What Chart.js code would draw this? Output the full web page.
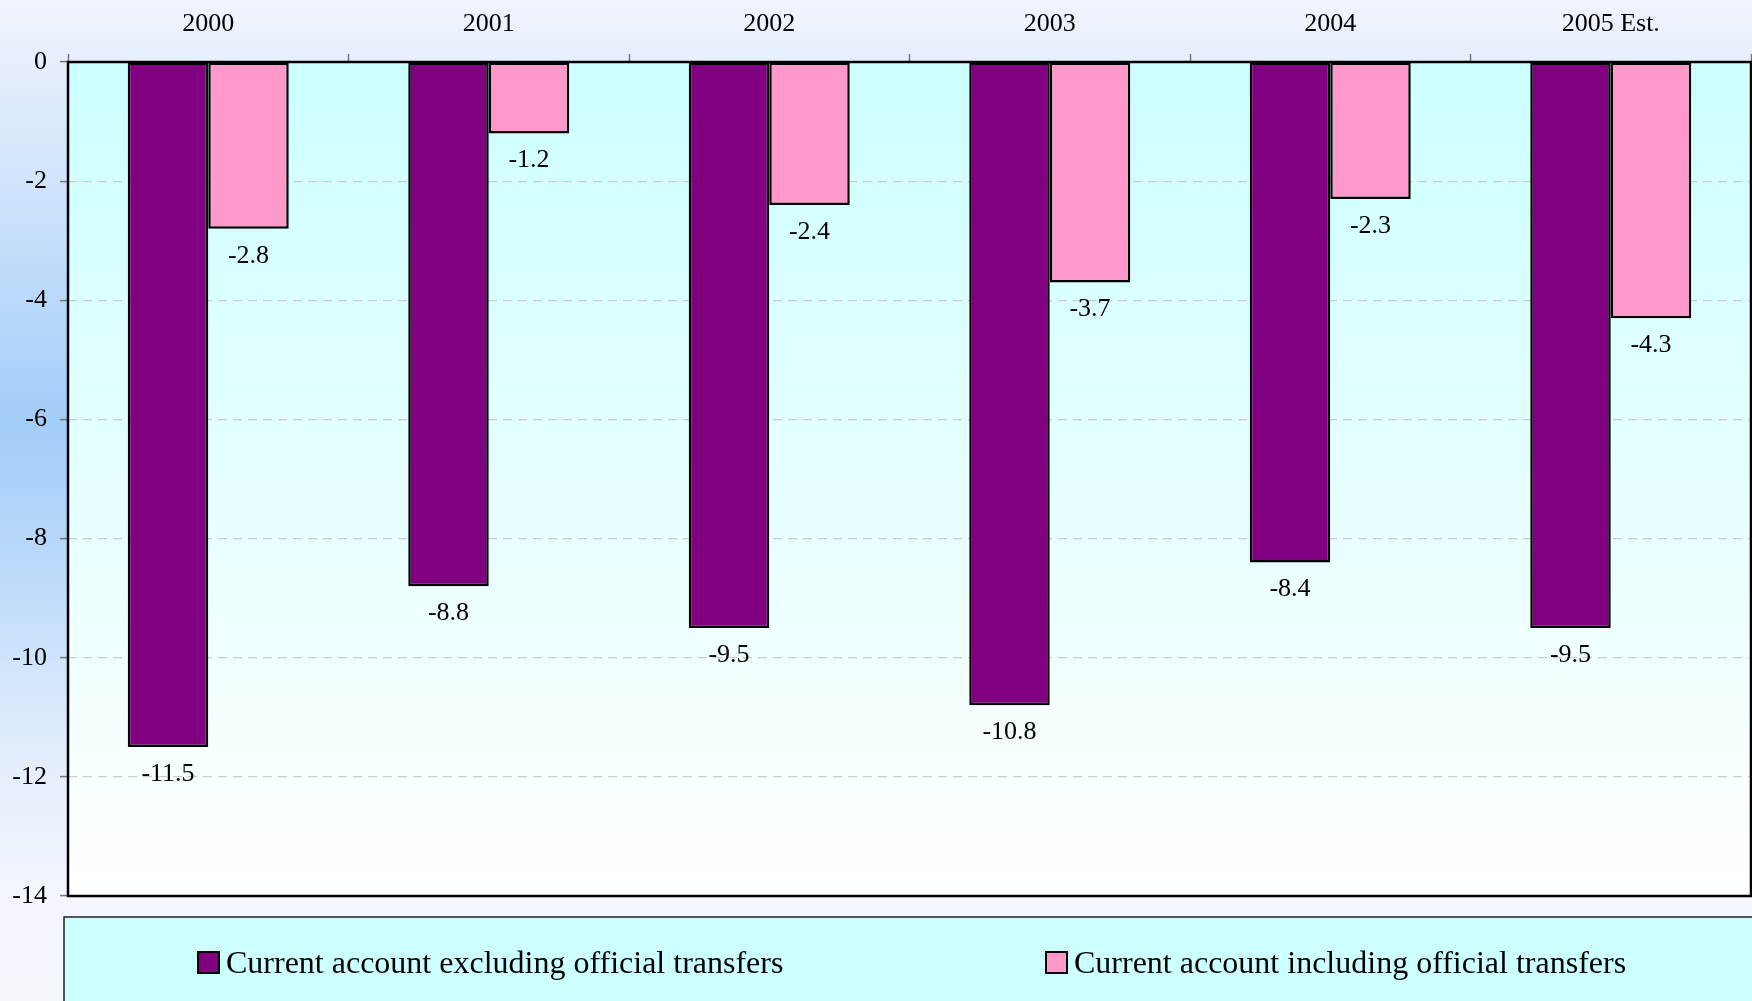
<!DOCTYPE html>
<html>
<head>
<meta charset="utf-8">
<script src="https://cdn.jsdelivr.net/npm/chart.js@4/dist/chart.umd.min.js"></script>
<style>
  html, body { margin: 0; padding: 0; }
  body {
    width: 1752px; height: 1001px; overflow: hidden;
    background: linear-gradient(to bottom, #f1f4fd 0%, #d6e7fc 15%, #a3cdf9 42%, #b8d8fa 55%, #e2edfc 75%, #f3f6fd 90%, #f6f7fd 100%);
  }
  #wrap { position: absolute; left: 0; top: 0; width: 1752px; height: 1001px; }
</style>
</head>
<body>
<div id="wrap"><canvas id="c" width="1752" height="1001"></canvas></div>
<script>
const categories = ['2000', '2001', '2002', '2003', '2004', '2005 Est.'];
const excludingTransfers = [-11.5, -8.8, -9.5, -10.8, -8.4, -9.5];
const includingTransfers = [-2.8, -1.2, -2.4, -3.7, -2.3, -4.3];
const seriesNames = ['Current account excluding official transfers', 'Current account including official transfers'];
const yMin = -14, yMax = 0, yStep = 2;

const FONT = "'Liberation Serif', 'Times New Roman', serif";

const plotBg = {
  id: 'plotBg',
  beforeDraw(chart) {
    const {ctx, chartArea: a} = chart;
    const g = ctx.createLinearGradient(0, a.top, 0, a.bottom);
    g.addColorStop(0, '#ccffff');
    g.addColorStop(1, '#ffffff');
    ctx.save();
    ctx.fillStyle = g;
    ctx.fillRect(a.left, a.top, a.right - a.left, a.bottom - a.top);
    ctx.restore();
  }
};

const frame = {
  id: 'frame',
  afterDatasetsDraw(chart) {
    const {ctx, chartArea: a} = chart;
    ctx.save();
    ctx.strokeStyle = '#000';
    ctx.lineWidth = 2.5;
    ctx.strokeRect(a.left, a.top, a.right - a.left, a.bottom - a.top);
    ctx.restore();
    // value labels
    ctx.save();
    ctx.font = '26px ' + FONT;
    ctx.fillStyle = '#000';
    ctx.textAlign = 'center';
    ctx.textBaseline = 'alphabetic';
    chart.data.datasets.forEach((ds, di) => {
      const meta = chart.getDatasetMeta(di);
      meta.data.forEach((bar, i) => {
        ctx.fillText(ds.data[i].toFixed(1), bar.x, bar.y + 34);
      });
    });
    ctx.restore();
  }
};

const legendBox = {
  id: 'legendBox',
  afterDraw(chart) {
    const {ctx} = chart;
    ctx.save();
    ctx.fillStyle = '#ccffff';
    ctx.fillRect(64, 917, 1700, 100);
    ctx.strokeStyle = '#222';
    ctx.lineWidth = 1.5;
    ctx.strokeRect(64, 917, 1700, 100);
    const starts = [198, 1046];
    ctx.font = '32px ' + FONT;
    ctx.textBaseline = 'alphabetic';
    ctx.textAlign = 'left';
    chart.data.datasets.forEach((ds, i) => {
      const x = starts[i];
      ctx.fillStyle = ds.backgroundColor;
      ctx.fillRect(x, 952, 21, 21);
      ctx.strokeStyle = '#000';
      ctx.lineWidth = 2;
      ctx.strokeRect(x, 952, 21, 21);
      ctx.fillStyle = '#000';
      ctx.fillText(ds.label, x + 28, 973);
    });
    ctx.restore();
  }
};

new Chart(document.getElementById('c'), {
  type: 'bar',
  data: {
    labels: categories,
    datasets: [
      { label: seriesNames[0], data: excludingTransfers, backgroundColor: '#800080', borderColor: '#000', borderWidth: 2.5, borderSkipped: false },
      { label: seriesNames[1], data: includingTransfers, backgroundColor: '#ff99cc', borderColor: '#000', borderWidth: 2.5, borderSkipped: false }
    ]
  },
  options: {
    responsive: false,
    animation: false,
    devicePixelRatio: 1,
    layout: { padding: { left: 0, top: 0, right: 1, bottom: 105 } },
    datasets: { bar: { categoryPercentage: 0.574, barPercentage: 1 } },
    plugins: { legend: { display: false }, tooltip: { enabled: false } },
    scales: {
      x: {
        position: 'top',
        offset: true,
        grid: { offset: true, drawOnChartArea: false, drawTicks: true, tickLength: 8, tickColor: '#777', tickWidth: 1.5 },
        border: { display: false },
        ticks: { color: '#000', font: { family: FONT, size: 26 }, padding: 14, maxRotation: 0 },
        afterFit(scale) { scale.height = 62; }
      },
      y: {
        min: yMin, max: yMax,
        grid: { color: '#cccccc', lineWidth: 1.2, tickLength: 8, tickColor: '#777', tickWidth: 1.5, tickBorderDash: [] },
        border: { display: false, dash: [9, 6] },
        ticks: { stepSize: yStep, color: '#000', font: { family: FONT, size: 26 }, padding: 13 },
        afterFit(scale) { scale.width = 68; }
      }
    }
  },
  plugins: [plotBg, frame, legendBox]
});
</script>
</body>
</html>
